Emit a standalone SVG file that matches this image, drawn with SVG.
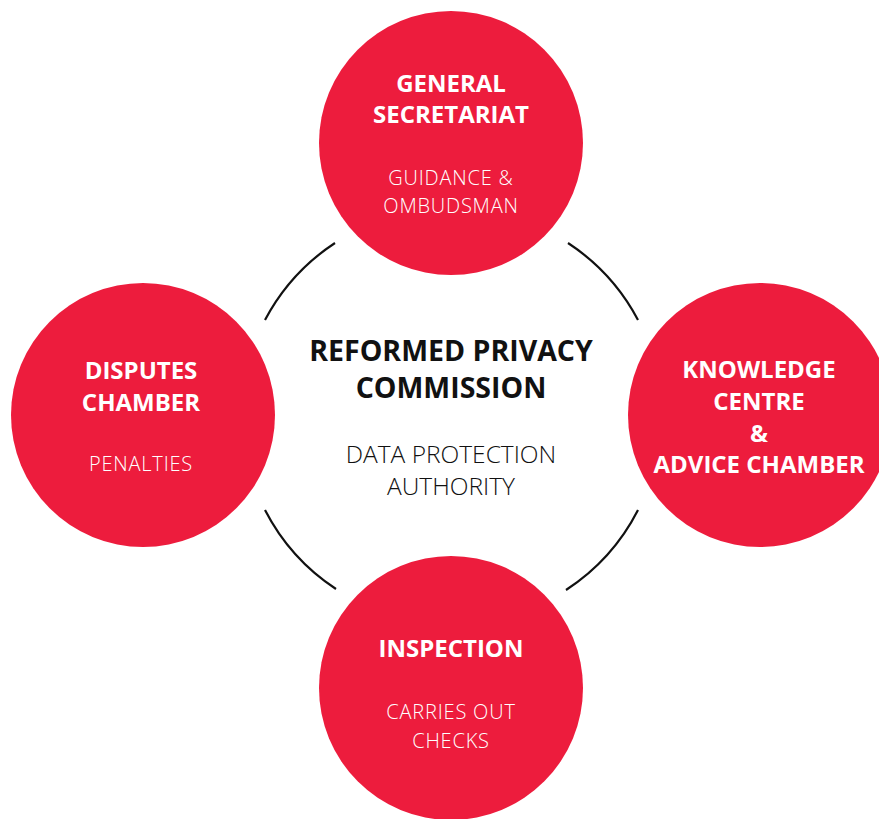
<svg xmlns="http://www.w3.org/2000/svg" width="879" height="819" viewBox="0 0 879 819">
<style>
.c{fill:#ED1C3D}
.h{font-family:"Open Sans","Liberation Sans",sans-serif;font-weight:700;fill:#fff;text-anchor:middle;font-size:24px}
.s{font-family:"Open Sans","Liberation Sans",sans-serif;font-weight:300;fill:#fff;text-anchor:middle;font-size:20px;letter-spacing:0.8px}
.ch{font-family:"Open Sans","Liberation Sans",sans-serif;font-weight:700;fill:#111;text-anchor:middle;font-size:28.5px}
.cs{font-family:"Open Sans","Liberation Sans",sans-serif;font-weight:300;fill:#111;text-anchor:middle;font-size:24.5px}
.a{fill:none;stroke:#111;stroke-width:2.2}
</style>
<rect width="879" height="819" fill="#fff"/>
<g id="connectors">
<path class="a" d="M265,320 A209,209 0 0 1 335,243"/>
<path class="a" d="M568,243 A209,209 0 0 1 638,320"/>
<path class="a" d="M638,510 A209,209 0 0 1 566,590"/>
<path class="a" d="M336,589 A209,209 0 0 1 265,510"/>
</g>
<g id="center">
<text class="ch" x="451" y="361">REFORMED PRIVACY</text>
<text class="ch" x="451" y="398">COMMISSION</text>
<text class="cs" x="451" y="463">DATA PROTECTION</text>
<text class="cs" x="451" y="495">AUTHORITY</text>
</g>
<g id="general-secretariat">
<circle class="c" cx="451" cy="143" r="132"/>
<text class="h" x="451" y="92">GENERAL</text>
<text class="h" x="451" y="123">SECRETARIAT</text>
<text class="s" x="451" y="185">GUIDANCE &amp;</text>
<text class="s" x="451" y="213">OMBUDSMAN</text>
</g>
<g id="disputes-chamber">
<circle class="c" cx="143" cy="415" r="132"/>
<text class="h" x="141" y="379">DISPUTES</text>
<text class="h" x="141" y="411">CHAMBER</text>
<text class="s" x="141" y="471">PENALTIES</text>
</g>
<g id="knowledge-centre">
<circle class="c" cx="760" cy="415" r="132"/>
<text class="h" x="759" y="378">KNOWLEDGE</text>
<text class="h" x="759" y="410">CENTRE</text>
<text class="h" x="759" y="442">&amp;</text>
<text class="h" x="759" y="473">ADVICE CHAMBER</text>
</g>
<g id="inspection">
<circle class="c" cx="451" cy="688" r="132"/>
<text class="h" x="451" y="657">INSPECTION</text>
<text class="s" x="451" y="719">CARRIES OUT</text>
<text class="s" x="451" y="748">CHECKS</text>
</g>
</svg>
